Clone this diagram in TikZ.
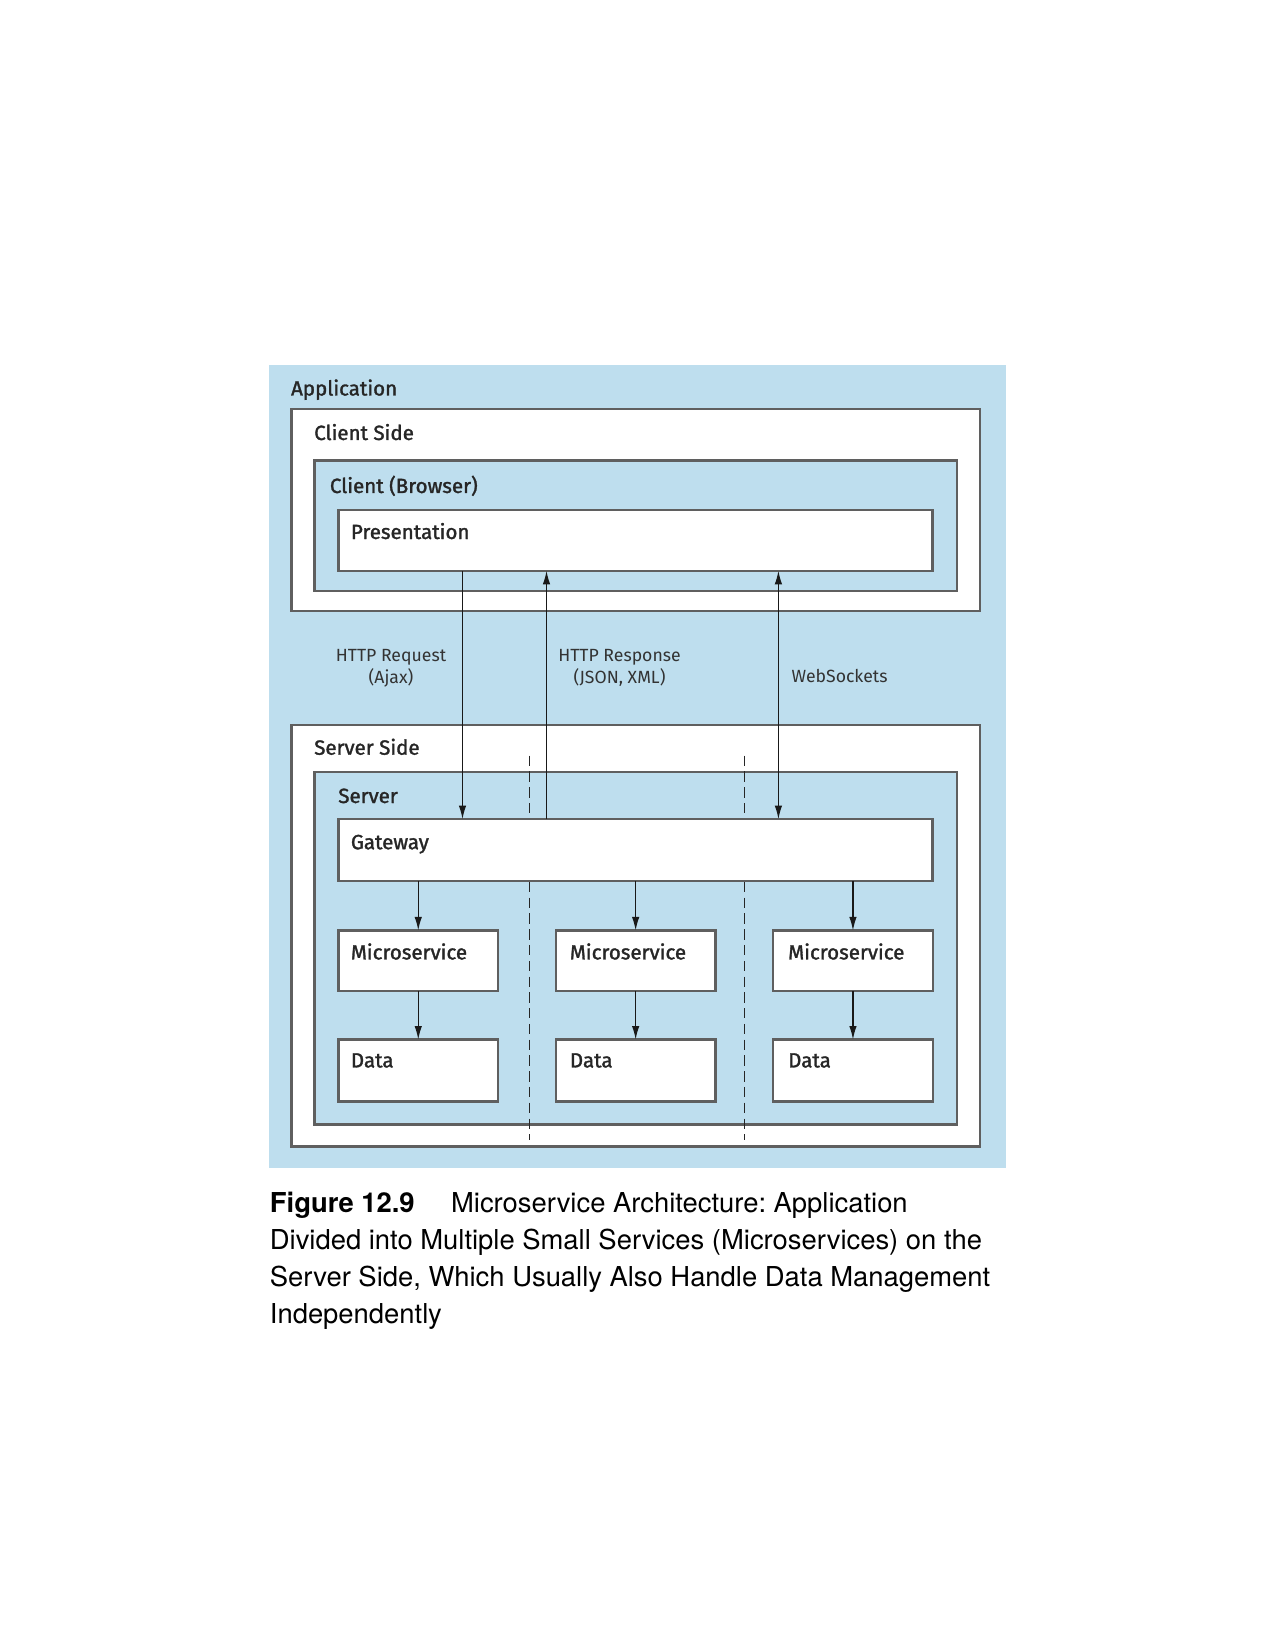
\documentclass[tikz,border=0pt]{standalone}
\usepackage{fontspec}
\setmainfont{TeX Gyre Heros}
\newfontfamily\labfont[FakeBold=1.5]{Fira Sans}
\newfontfamily\edgefont{Fira Sans}
\usetikzlibrary{arrows.meta}
\definecolor{appblue}{RGB}{190,222,238}
\definecolor{boxline}{RGB}{95,95,95}
\tikzset{
  frame/.style={draw=boxline, line width=1.1pt},
  bluebox/.style={frame, fill=appblue},
  whitebox/.style={frame, fill=white},
  pxbox/.style 2 args={anchor=north west, inner sep=0pt, outer sep=0pt,
     minimum width=#1*0.4818pt, minimum height=#2*0.4818pt},
  boxlabel/.style={anchor=base west, inner sep=0pt, font=\labfont\fontsize{9.9}{12}\selectfont, text=black!85},
  edgelabel/.style={inner sep=0pt, align=center, font=\edgefont\fontsize{8.5}{10.6}\selectfont, text=black!80},
  conn/.style={line width=0.6pt, draw=black!90},
  tip/.style={-{Latex[length=6.5pt,width=3.6pt]}},
  dtip/.style={{Latex[length=6.5pt,width=3.6pt]}-{Latex[length=6.5pt,width=3.6pt]}},
  sep/.style={line width=0.6pt, draw=black!85, dash pattern=on 5pt off 2.6pt},
}
\begin{document}
\begin{tikzpicture}[x=0.4818pt,y=-0.4818pt]
\useasboundingbox (0,0) rectangle (1275,1649);
\fill[white] (0,0) rectangle (1275,1649);
% outer application frame
\node[pxbox={737}{803}, fill=appblue] (app) at (269,365) {};
\node[boxlabel] (applab) at (290.7,395.5) {Application};
% client side
\node[pxbox={688.4}{201.5}, whitebox] (cs) at (291.5,409.2) {};
\node[boxlabel] (cslab) at (313.8,440) {Client Side};
\node[pxbox={642.2}{130.2}, bluebox] (cb) at (314.6,460.6) {};
\node[boxlabel] (cblab) at (329.5,493) {Client (Browser)};
\node[pxbox={594}{60.8}, whitebox] (pres) at (338.5,510) {};
\node[boxlabel] (preslab) at (350.5,539) {Presentation};
% server side
\node[pxbox={688.4}{421.8}, whitebox] (ss) at (291.5,724.7) {};
\node[boxlabel] (sslab) at (313.8,754.7) {Server Side};
\node[pxbox={642.2}{352.6}, bluebox] (sv) at (314.6,771.9) {};
\node[boxlabel] (svlab) at (337.9,803) {Server};
% separators
\coordinate (d1t) at (529.5,755.7);
\coordinate (d1b) at (529.5,1139.7);
\coordinate (d2t) at (744.5,755.7);
\coordinate (d2b) at (744.5,1139.7);
\draw[sep] (d1t) -- (d1b);
\draw[sep] (d2t) -- (d2b);
% gateway
\node[pxbox={594}{61.9}, whitebox] (gw) at (338.5,819.1) {};
\node[boxlabel] (gwlab) at (350.5,849.2) {Gateway};
% microservices
\node[pxbox={159.5}{60.8}, whitebox] (ms1) at (338.5,930.4) {};
\node[pxbox={159.5}{60.8}, whitebox] (ms2) at (555.9,930.4) {};
\node[pxbox={159.5}{60.8}, whitebox] (ms3) at (773.2,930.4) {};
\node[boxlabel] (ms1lab) at (350.5,959.4) {Microservice};
\node[boxlabel] (ms2lab) at (569.5,959.4) {Microservice};
\node[boxlabel] (ms3lab) at (787.8,959.4) {Microservice};
% data
\node[pxbox={159.5}{61.9}, whitebox] (db1) at (338.5,1039.5) {};
\node[pxbox={159.5}{61.9}, whitebox] (db2) at (555.9,1039.5) {};
\node[pxbox={159.5}{61.9}, whitebox] (db3) at (773.2,1039.5) {};
\node[boxlabel] (db1lab) at (350.5,1067.4) {Data};
\node[boxlabel] (db2lab) at (569.5,1067.4) {Data};
\node[boxlabel] (db3lab) at (787.8,1067.4) {Data};
% connectors gateway -> microservice -> data
\foreach \i in {1,2,3}{
  \draw[conn,tip] (gw.south -| ms\i.north) -- (ms\i.north);
  \draw[conn,tip] (ms\i.south) -- (db\i.north);
}
% client/server connectors
\coordinate (reqx) at (462.5,0);
\coordinate (resx) at (546.5,0);
\coordinate (wsx) at (778.4,0);
\draw[conn,tip] (pres.south -| reqx) -- (gw.north -| reqx);
\draw[conn,tip] (gw.north -| resx) -- (pres.south -| resx);
\draw[conn,dtip] (pres.south -| wsx) -- (gw.north -| wsx);
\node[edgelabel] (reqlab) at (391,668) {HTTP Request\\(Ajax)};
\node[edgelabel] (reslab) at (619.5,668) {HTTP Response\\(JSON, XML)};
\node[edgelabel, anchor=base west] (wslab) at (791.2,682) {WebSockets};
% caption
\node[anchor=base west, align=left, inner sep=0pt, font=\fontsize{13.2}{17.7}\selectfont\frenchspacing] (cap) at (269.5,1323)
 {\makebox[87.3pt][l]{\textbf{Figure 12.9}}Microservice Architecture: Application\\
  Divided into Multiple Small Services (Microservices) on the\\
  Server Side, Which Usually Also Handle Data Management\\
  Independently};
\end{tikzpicture}
\end{document}
